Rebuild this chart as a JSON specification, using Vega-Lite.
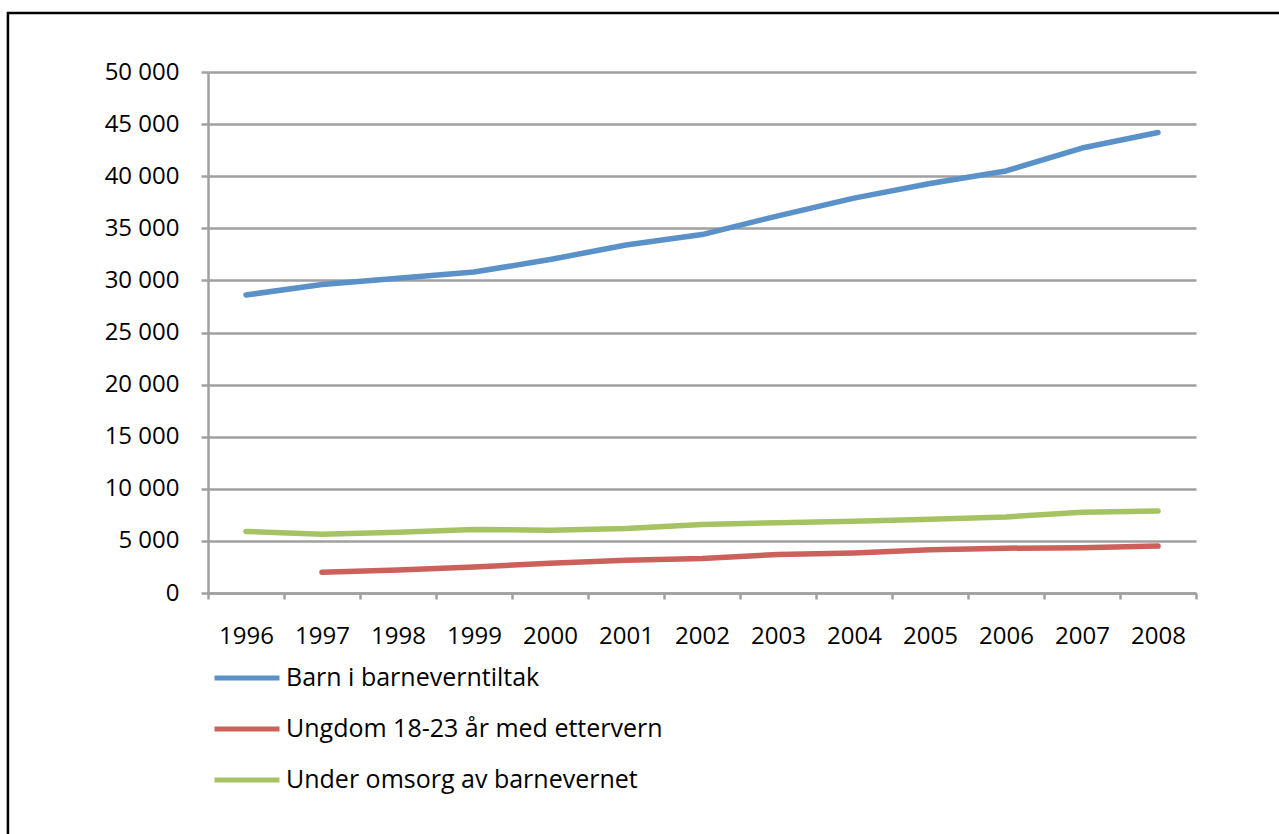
{
  "$schema": "https://vega.github.io/schema/vega-lite/v6.json",
  "width": 988,
  "height": 521,
  "autosize": {"type": "none"},
  "padding": {"left": 208, "top": 72, "right": 83, "bottom": 241},
  "background": "white",
  "config": {
    "view": {"stroke": null},
    "font": "Open Sans"
  },
  "layer": [
    {
      "data": {"values": [{}]},
      "mark": {"type": "rect", "fill": null, "stroke": "black", "strokeWidth": 2.5},
      "encoding": {
        "x": {"datum": -0.2025, "type": "quantitative", "scale": {"domain": [0, 1]}, "axis": null},
        "x2": {"datum": 1.3},
        "y": {"datum": 55660, "type": "quantitative", "scale": {"domain": [0, 50000]}, "axis": null},
        "y2": {"datum": -30000}
      }
    },
    {
      "data": {
        "values": [
          {"year": "1996", "series": "Barn i barneverntiltak", "value": 28600},
          {"year": "1997", "series": "Barn i barneverntiltak", "value": 29600},
          {"year": "1998", "series": "Barn i barneverntiltak", "value": 30200},
          {"year": "1999", "series": "Barn i barneverntiltak", "value": 30800},
          {"year": "2000", "series": "Barn i barneverntiltak", "value": 32000},
          {"year": "2001", "series": "Barn i barneverntiltak", "value": 33400},
          {"year": "2002", "series": "Barn i barneverntiltak", "value": 34400},
          {"year": "2003", "series": "Barn i barneverntiltak", "value": 36200},
          {"year": "2004", "series": "Barn i barneverntiltak", "value": 37900},
          {"year": "2005", "series": "Barn i barneverntiltak", "value": 39300},
          {"year": "2006", "series": "Barn i barneverntiltak", "value": 40500},
          {"year": "2007", "series": "Barn i barneverntiltak", "value": 42700},
          {"year": "2008", "series": "Barn i barneverntiltak", "value": 44200},
          {"year": "1997", "series": "Ungdom 18-23 år med ettervern", "value": 2000},
          {"year": "1998", "series": "Ungdom 18-23 år med ettervern", "value": 2200},
          {"year": "1999", "series": "Ungdom 18-23 år med ettervern", "value": 2500},
          {"year": "2000", "series": "Ungdom 18-23 år med ettervern", "value": 2850},
          {"year": "2001", "series": "Ungdom 18-23 år med ettervern", "value": 3150},
          {"year": "2002", "series": "Ungdom 18-23 år med ettervern", "value": 3300},
          {"year": "2003", "series": "Ungdom 18-23 år med ettervern", "value": 3700},
          {"year": "2004", "series": "Ungdom 18-23 år med ettervern", "value": 3850},
          {"year": "2005", "series": "Ungdom 18-23 år med ettervern", "value": 4150},
          {"year": "2006", "series": "Ungdom 18-23 år med ettervern", "value": 4300},
          {"year": "2007", "series": "Ungdom 18-23 år med ettervern", "value": 4350},
          {"year": "2008", "series": "Ungdom 18-23 år med ettervern", "value": 4500},
          {"year": "1996", "series": "Under omsorg av barnevernet", "value": 5900},
          {"year": "1997", "series": "Under omsorg av barnevernet", "value": 5650},
          {"year": "1998", "series": "Under omsorg av barnevernet", "value": 5820},
          {"year": "1999", "series": "Under omsorg av barnevernet", "value": 6100},
          {"year": "2000", "series": "Under omsorg av barnevernet", "value": 6020},
          {"year": "2001", "series": "Under omsorg av barnevernet", "value": 6200},
          {"year": "2002", "series": "Under omsorg av barnevernet", "value": 6580},
          {"year": "2003", "series": "Under omsorg av barnevernet", "value": 6750},
          {"year": "2004", "series": "Under omsorg av barnevernet", "value": 6880},
          {"year": "2005", "series": "Under omsorg av barnevernet", "value": 7070},
          {"year": "2006", "series": "Under omsorg av barnevernet", "value": 7300},
          {"year": "2007", "series": "Under omsorg av barnevernet", "value": 7740},
          {"year": "2008", "series": "Under omsorg av barnevernet", "value": 7870}
        ]
      },
      "mark": {"type": "line", "strokeWidth": 5.5, "strokeCap": "round", "strokeJoin": "round"},
      "encoding": {
        "x": {
          "field": "year",
          "type": "ordinal",
          "bandPosition": 0.5,
          "scale": {"type": "band", "paddingInner": 0, "paddingOuter": 0},
          "axis": {
            "title": null,
            "tickBand": "extent",
            "labelAngle": 0,
            "labelFont": "Open Sans",
            "labelFontSize": 24,
            "labelColor": "black",
            "labelPadding": 25,
            "tickSize": 6,
            "tickWidth": 2.5,
            "tickColor": "#a0a0a0",
            "domainColor": "#a0a0a0",
            "domainWidth": 2.5,
            "grid": false
          }
        },
        "y": {
          "field": "value",
          "type": "quantitative",
          "scale": {"domain": [0, 50000], "nice": false},
          "axis": {
            "title": null,
            "values": [0, 5000, 10000, 15000, 20000, 25000, 30000, 35000, 40000, 45000, 50000],
            "labelExpr": "replace(format(datum.value, ','), ',', ' ')",
            "labelFont": "Open Sans",
            "labelFontSize": 24,
            "labelColor": "black",
            "labelPadding": 22,
            "tickSize": 7,
            "tickWidth": 2.5,
            "tickColor": "#a0a0a0",
            "domainColor": "#a0a0a0",
            "domainWidth": 2.5,
            "grid": true,
            "gridColor": "#a0a0a0",
            "gridWidth": 2.5
          }
        },
        "color": {
          "field": "series",
          "type": "nominal",
          "scale": {
            "domain": ["Barn i barneverntiltak", "Ungdom 18-23 år med ettervern", "Under omsorg av barnevernet"],
            "range": ["#5a91c9", "#cc605b", "#a6c364"]
          },
          "legend": {
            "title": null,
            "orient": "none",
            "legendX": 4,
            "legendY": 571,
            "direction": "vertical",
            "symbolType": "stroke",
            "symbolSize": 4225,
            "symbolStrokeWidth": 5,
            "labelFont": "Open Sans",
            "labelFontSize": 25,
            "labelColor": "black",
            "labelOffset": 4,
            "labelLimit": 0,
            "rowPadding": 3
          }
        }
      }
    }
  ],
  "resolve": {"scale": {"x": "independent", "y": "independent"}}
}
